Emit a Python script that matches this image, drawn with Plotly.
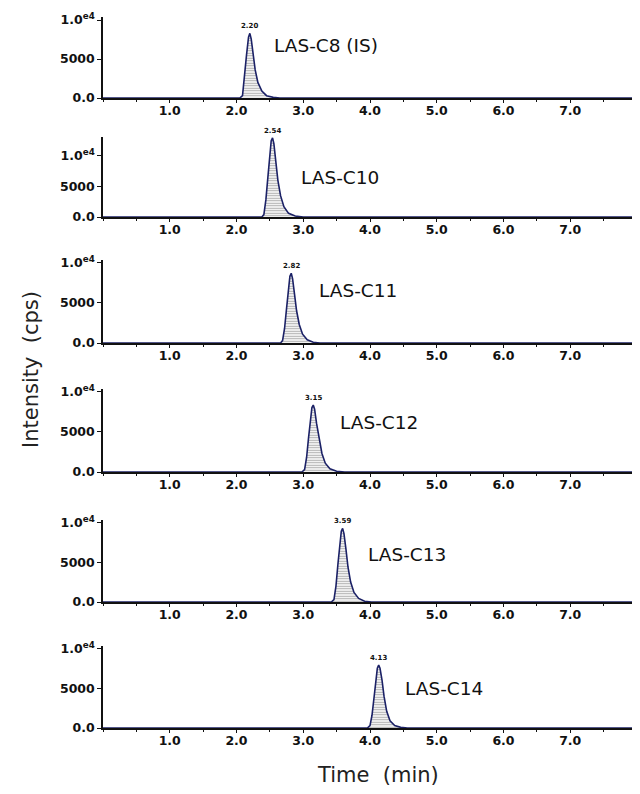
import plotly.graph_objects as go

# page body has an 8px margin: lay the figure out in page pixels minus that offset
OFF = 8
W, H = 640 - OFF, 794 - OFF

# ---------------- data ----------------
names = ["LAS-C8 (IS)", "LAS-C10", "LAS-C11", "LAS-C12", "LAS-C13", "LAS-C14"]
rts = [2.20, 2.54, 2.82, 3.15, 3.59, 4.13]
peak_labels = ["2.20", "2.54", "2.82", "3.15", "3.59", "4.13"]

t1 = [0, 2.05, 2.09, 2.12, 2.15, 2.18, 2.20, 2.22, 2.25, 2.28, 2.32, 2.38, 2.45, 2.55, 2.65, 8]
i1 = [0, 0, 300, 2500, 5500, 7800, 8300, 7600, 5600, 3600, 2000, 900, 300, 80, 0, 0]

t2 = [0, 2.38, 2.41, 2.44, 2.47, 2.50, 2.52, 2.54, 2.56, 2.59, 2.62, 2.66, 2.71, 2.78, 2.88, 3.00, 8]
i2 = [0, 0, 400, 2800, 6500, 10500, 12500, 12950, 12000, 9000, 6000, 3500, 1700, 600, 150, 0, 0]

t3 = [0, 2.66, 2.69, 2.72, 2.75, 2.78, 2.80, 2.82, 2.84, 2.87, 2.90, 2.94, 2.99, 3.06, 3.15, 3.25, 8]
i3 = [0, 0, 300, 1800, 4300, 7000, 8300, 8650, 8000, 6000, 4000, 2300, 1100, 400, 100, 0, 0]

t4 = [0, 2.98, 3.02, 3.05, 3.08, 3.11, 3.13, 3.15, 3.17, 3.20, 3.24, 3.28, 3.33, 3.40, 3.50, 3.62, 8]
i4 = [0, 0, 300, 1800, 4300, 7000, 8000, 8300, 7800, 6000, 4000, 2300, 1100, 400, 100, 0, 0]

t5 = [0, 3.42, 3.46, 3.49, 3.52, 3.55, 3.57, 3.59, 3.61, 3.64, 3.67, 3.71, 3.76, 3.83, 3.92, 4.02, 8]
i5 = [0, 0, 300, 2000, 4800, 7800, 8900, 9250, 8600, 6600, 4400, 2500, 1200, 450, 100, 0, 0]

t6 = [0, 3.96, 4.00, 4.03, 4.06, 4.09, 4.11, 4.13, 4.15, 4.18, 4.21, 4.25, 4.30, 4.37, 4.46, 4.56, 8]
i6 = [0, 0, 300, 1600, 3800, 6300, 7500, 7900, 7500, 6000, 4000, 2100, 900, 300, 80, 0, 0]

times = [t1, t2, t3, t4, t5, t6]
ints = [i1, i2, i3, i4, i5, i6]

ymax = [10400, 13100, 10300, 10300, 10300, 10300]
name_pos = [(2.53, 6800), (2.93, 6400), (3.20, 6460), (3.52, 6200), (3.94, 6000), (4.50, 4900)]

x_ticks = [1, 2, 3, 4, 5, 6, 7]
x_ticktext = ["1.0", "2.0", "3.0", "4.0", "5.0", "6.0", "7.0"]
y_ticks = [0, 5000, 10000]
y_ticktext = ["0.0", "5000", "1.0<sup>e4</sup>"]

# panel page-pixel extents (top, bottom)
panels_px = [(17, 98), (137, 217), (260, 343), (389, 472), (520, 602), (646, 728)]
x_dom = [(103 - OFF) / W, (637 - OFF) / W]


def fy(p):
    return 1 - (p - OFF) / H


fig = go.Figure()
tickfont = dict(family="DejaVu Sans", size=12.5, color="#111", weight="bold")

for k in range(6):
    sx = "" if k == 0 else str(k + 1)
    xa, ya = "x" + sx, "y" + sx
    top, bot = panels_px[k]
    fig.add_trace(go.Scatter(
        x=times[k], y=ints[k], xaxis=xa, yaxis=ya, mode="lines",
        line=dict(color="#1b2166", width=1.6),
        fill="tozeroy", fillcolor="rgba(0,0,0,0)",
        fillpattern=dict(shape="-", fgcolor="#555", bgcolor="white", size=2.5, solidity=0.45),
        showlegend=False, hoverinfo="skip"))
    layout_x = dict(domain=x_dom, range=[0, 8], anchor=ya, showgrid=False, zeroline=False,
                    automargin=False,
                    showline=True, linecolor="#111", linewidth=1.5,
                    tickvals=x_ticks, ticktext=x_ticktext, ticks="outside", ticklen=3,
                    tickcolor="#111", tickfont=tickfont, ticklabelstandoff=-3,
                    minor=dict(dtick=0.5, tick0=0, ticks="outside", ticklen=2, tickcolor="#111"))
    layout_y = dict(domain=[fy(bot), fy(top)], range=[0, ymax[k]], anchor=xa,
                    automargin=False,
                    showgrid=False, zeroline=False, showline=True, linecolor="#111",
                    linewidth=1.5, tickvals=y_ticks, ticktext=y_ticktext, ticks="outside",
                    ticklen=4, tickcolor="#111", tickfont=tickfont)
    fig.update_layout(**{"xaxis" + sx: layout_x, "yaxis" + sx: layout_y})
    # peak label
    fig.add_annotation(x=rts[k], y=max(ints[k]), xref=xa, yref=ya, text=peak_labels[k],
                       showarrow=False, yanchor="bottom", yshift=1,
                       font=dict(family="DejaVu Sans", size=7, color="#111", weight="bold"))
    # compound label
    fig.add_annotation(x=name_pos[k][0], y=name_pos[k][1], xref=xa, yref=ya, text=names[k],
                       showarrow=False, xanchor="left", yanchor="middle",
                       font=dict(family="DejaVu Sans", size=18.5, color="#111"))

fig.add_annotation(x=(31 - OFF) / W, y=fy(370), xref="paper", yref="paper",
                   xanchor="center", yanchor="middle",
                   text="Intensity  (cps)", textangle=-90, showarrow=False,
                   font=dict(family="DejaVu Sans", size=21, color="#222"))
fig.add_annotation(x=(378 - OFF) / W, y=fy(775), xref="paper", yref="paper",
                   xanchor="center", yanchor="middle",
                   text="Time  (min)", showarrow=False,
                   font=dict(family="DejaVu Sans", size=21, color="#222"))

fig.update_layout(width=W, height=H, margin=dict(l=0, r=0, t=0, b=0),
                  paper_bgcolor="white", plot_bgcolor="white")
fig.write_html("out.html")
